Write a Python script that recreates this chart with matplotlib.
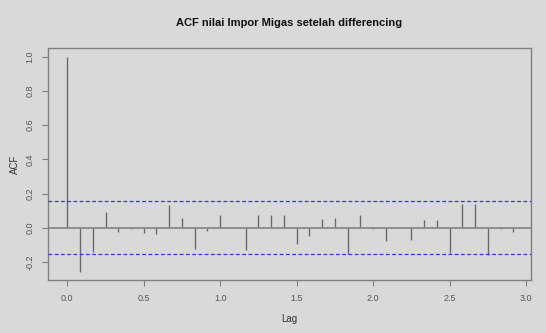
import matplotlib
matplotlib.use("Agg")
import matplotlib.pyplot as plt
import numpy as np

plt.rcParams['font.family'] = ['Liberation Sans', 'DejaVu Sans']

# ACF values for lags 0..36 (monthly, lag shown in years)
acf_values = [1.000, -0.258, -0.140, 0.090, -0.023, -0.008, -0.033, -0.039,
              0.133, 0.055, -0.127, -0.021, 0.074, -0.003, -0.131, 0.074,
              0.074, 0.072, -0.094, -0.051, 0.053, 0.055, -0.156, 0.076,
              -0.006, -0.078, 0.002, -0.070, 0.045, 0.045, -0.146, 0.140,
              0.140, -0.162, -0.010, -0.027, 0.002]
frequency = 12
conf_limit = 0.155
x_ticks = [0.0, 0.5, 1.0, 1.5, 2.0, 2.5, 3.0]
y_ticks = [-0.2, 0.0, 0.2, 0.4, 0.6, 0.8, 1.0]
title = "ACF nilai Impor Migas setelah differencing"

lags = np.arange(len(acf_values)) / frequency

W, H = 546, 333
bg = '#d9d9d9'
fig = plt.figure(figsize=(W / 100, H / 100), dpi=100, facecolor=bg)
ax = fig.add_axes([48.3 / W, 1 - 280 / H, (530.7 - 48.3) / W, (280 - 47.7) / H])
ax.set_facecolor(bg)

ax.vlines(lags, 0, acf_values, colors='#6a6a6a', linewidth=1.0)
ax.axhline(0, color='#8a8a8a', linewidth=1.3)
for c in (conf_limit, -conf_limit):
    ax.axhline(c, color='#3030ff', linewidth=0.9, linestyle=(0, (3, 2)), zorder=3)

ax.set_xlim(-0.124, 3.03)
ax.set_ylim(-0.306, 1.053)
ax.set_xticks(x_ticks)
ax.set_xticklabels([f"{t:.1f}" for t in x_ticks])
ax.set_yticks(y_ticks)
ax.set_yticklabels([f"{t:.1f}" for t in y_ticks], rotation=90, va='center')

for s in ax.spines.values():
    s.set_color('#808080')
    s.set_linewidth(1.0)
ax.tick_params(colors='#808080', labelcolor='#555555', labelsize=6.5, length=4, width=0.8, pad=6)

ax.set_xlabel("Lag", fontsize=7, color='#333333', labelpad=8)
ax.set_ylabel("ACF", fontsize=7, color='#333333', labelpad=4)
fig.text(289.5 / W, 1 - 23.5 / H, title, ha='center', va='center',
         fontsize=8, fontweight='bold', color='#111111')

fig.savefig("out.png", dpi=100, facecolor=bg)
